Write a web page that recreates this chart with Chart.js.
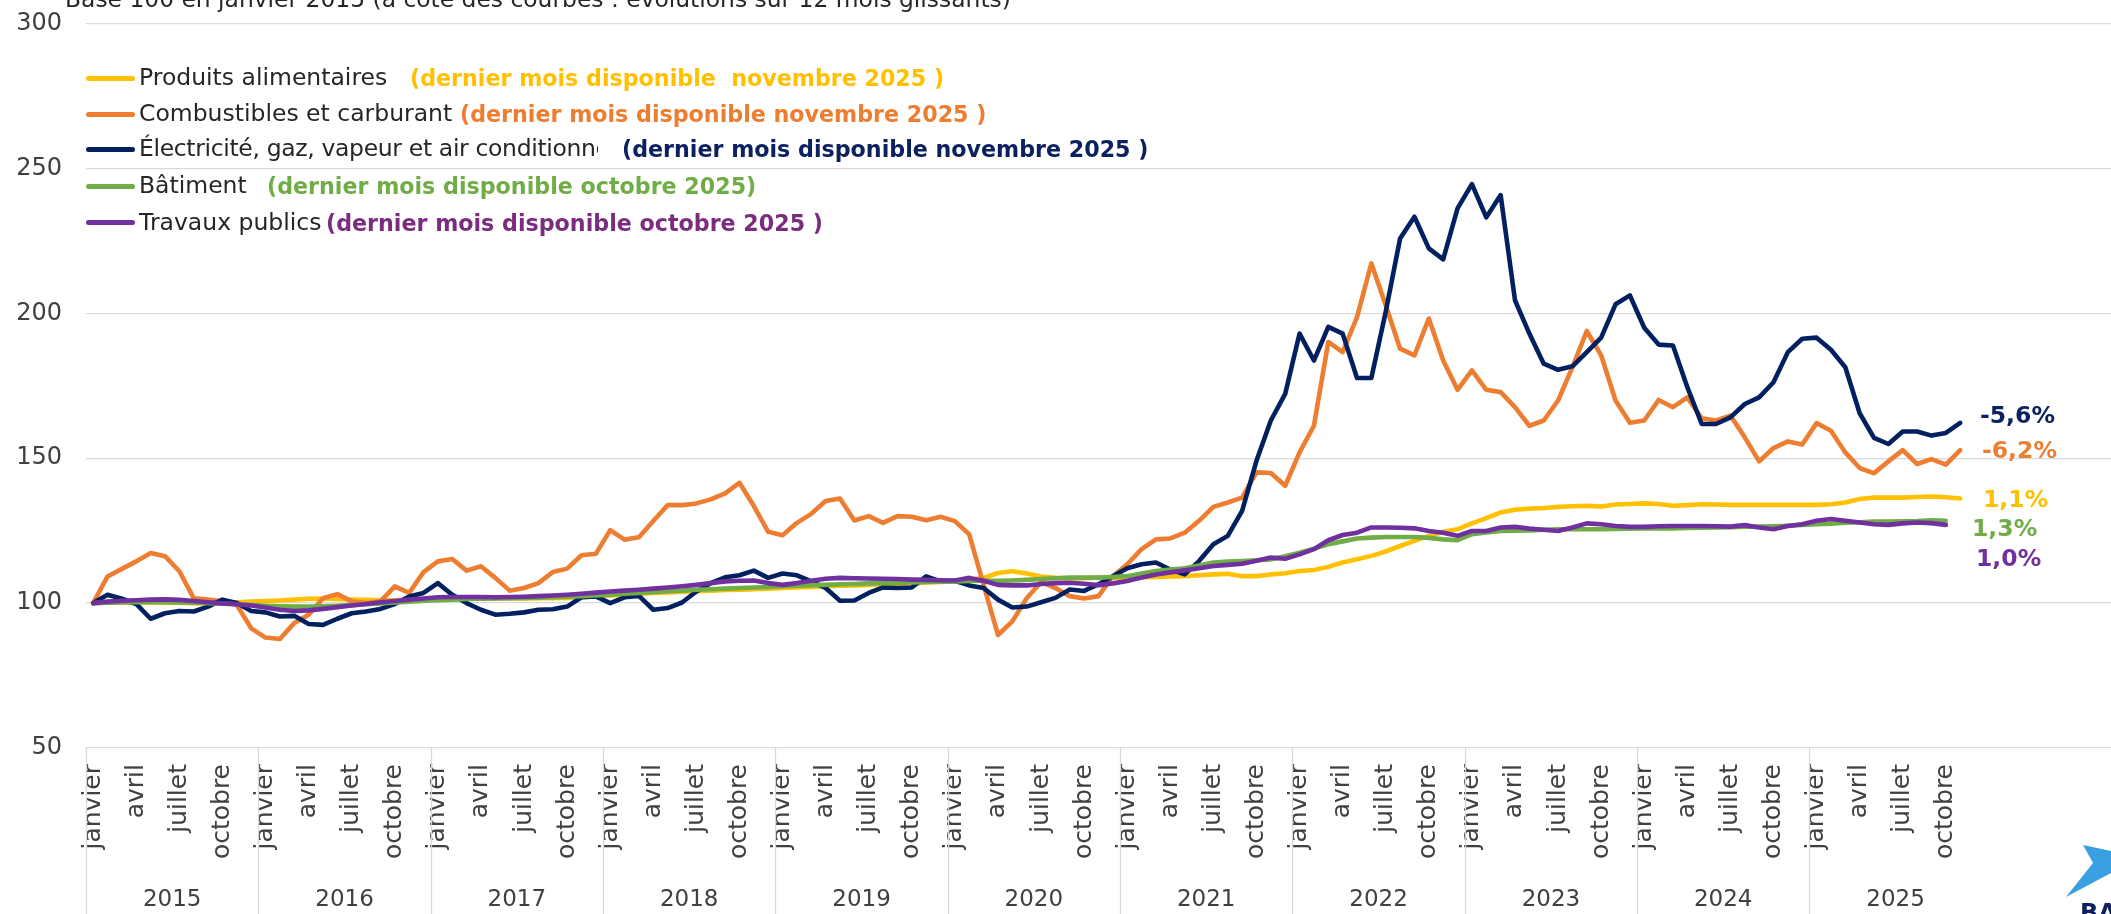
<!DOCTYPE html>
<html><head><meta charset="utf-8">
<script src="https://cdn.jsdelivr.net/npm/chart.js@4.4.1/dist/chart.umd.min.js"></script>
<style>
html,body{margin:0;padding:0;background:#fff;overflow:hidden;}
#wrap{position:relative;width:2111px;height:914px;overflow:hidden;}
#c{position:absolute;left:0;top:0;}
.t{position:absolute;white-space:nowrap;font-family:'DejaVu Sans';line-height:1;}
.r{font-size:23.5px;color:#262626;}
.b{font-size:22.2px;font-weight:bold;}
.e{font-size:23.5px;font-weight:bold;}
.sw{position:absolute;left:86px;width:49px;height:5px;border-radius:3px;}
</style></head><body>
<div id="wrap">
<canvas id="c" width="2111" height="914"></canvas>

<div class="t" style="left:65px;top:-11.8px;font-size:23.4px;color:#262626;">Base 100 en janvier 2015 (à côté des courbes : évolutions sur 12 mois glissants)</div>

<div class="sw" style="top:75.8px;background:#FFC000"></div>
<div class="sw" style="top:111.5px;background:#ED7D31"></div>
<div class="sw" style="top:146.8px;background:#002060"></div>
<div class="sw" style="top:183.5px;background:#70AD47"></div>
<div class="sw" style="top:220.2px;background:#7030A0"></div>

<div class="t r" style="left:139px;top:66.1px;">Produits alimentaires</div>
<div class="t r" style="left:139px;top:101.8px;">Combustibles et carburant</div>
<div class="t r" style="left:139px;top:130.1px;line-height:1.6;width:459px;overflow:hidden;letter-spacing:-0.35px;">Électricité, gaz, vapeur et air conditionné</div>
<div class="t r" style="left:139px;top:173.8px;">Bâtiment</div>
<div class="t r" style="left:139px;top:210.5px;">Travaux publics</div>

<div class="t b" style="left:410px;top:67.2px;color:#FFC000;">(dernier mois disponible&nbsp; novembre 2025 )</div>
<div class="t b" style="left:460px;top:102.9px;color:#ED7D31;">(dernier mois disponible novembre 2025 )</div>
<div class="t b" style="left:622px;top:138.2px;color:#0c2160;">(dernier mois disponible novembre 2025 )</div>
<div class="t b" style="left:267px;top:174.9px;color:#70AD47;">(dernier mois disponible octobre 2025)</div>
<div class="t b" style="left:326px;top:211.6px;color:#7B2C7F;">(dernier mois disponible octobre 2025 )</div>

<div class="t e" style="left:1980px;top:404px;color:#0c2160;">-5,6%</div>
<div class="t e" style="left:1982px;top:439px;color:#ED7D31;">-6,2%</div>
<div class="t e" style="left:1983px;top:488px;color:#FFC000;">1,1%</div>
<div class="t e" style="left:1972px;top:517px;color:#70AD47;">1,3%</div>
<div class="t e" style="left:1976px;top:547px;color:#7030A0;">1,0%</div>

<svg style="position:absolute;left:2050px;top:835px" width="61" height="79">
<polygon points="33,10 61,16 61,38 16,62 43,28" fill="#3a9fe0"/>
<text x="30" y="86" font-family="DejaVu Sans" font-weight="bold" font-size="24" fill="#0c2160">BA</text>
</svg>
</div>
<script>
const MONTHS = ['janvier','février','mars','avril','mai','juin','juillet','août','septembre','octobre','novembre','décembre'];
const YEARS = [2015,2016,2017,2018,2019,2020,2021,2022,2023,2024,2025];
const SHOWN_MONTHS = ['janvier','avril','juillet','octobre'];
const EXTRA_SLOTS = 9;
const Y_TICKS = [50,100,150,200,250,300];

const alimentaires = [
100,100.2,100.3,100.2,100.3,100.2,100.1,100,100,100.1,100.3,100.5,
100.7,100.9,101.2,101.5,101.6,101.4,101.2,101.1,101,101,101.1,101.2,
101.3,101.4,101.5,101.6,101.6,101.6,101.6,101.7,101.7,101.8,102,102.3,
102.6,102.9,103.2,103.5,103.7,103.9,104.1,104.3,104.5,104.6,104.8,105,
105.2,105.4,105.6,105.8,106,106.1,106.3,106.5,106.7,106.9,107.1,107.3,
107.5,108,108.7,110.4,111,110.2,109.2,108.7,108.5,108.6,108.8,108.8,
108.8,108.9,109,109.2,109.3,109.6,109.9,110.1,109.3,109.3,109.9,110.3,
111.1,111.4,112.5,114,115.1,116.3,117.8,119.7,121.5,123.2,124.6,125.5,
127.5,129.3,131.3,132.2,132.6,132.8,133.2,133.4,133.6,133.3,134,134.2,
134.4,134.2,133.6,133.8,134.1,134,133.9,133.9,133.9,133.9,133.9,133.9,
133.9,134.1,134.7,135.9,136.4,136.4,136.4,136.6,136.8,136.5,136.1];

const combustibles = [
100,109.2,111.8,114.4,117.3,116.2,111,101.7,101.2,100.6,99.4,91.3,
88.1,87.6,93.1,96,101.7,103.1,100.6,100,100.6,105.8,103.5,110.7,
114.4,115.2,111.2,112.7,108.7,104.3,105.2,106.9,110.7,111.9,116.5,117,
125.2,121.9,122.7,128.3,133.8,133.8,134.4,135.8,137.9,141.5,133.5,124.6,
123.4,127.7,130.8,135.2,136.1,128.5,130,127.7,130,129.8,128.6,129.8,
128.3,123.7,106.3,89,93.7,101.7,107.3,105.2,102.4,101.6,102.4,109.3,
113.4,118.6,122,122.3,124.3,128.4,133.2,134.7,136.4,145.1,144.9,140.5,
152,161.2,190.1,186.6,198.7,217.2,202.8,187.8,185.5,198.2,183.7,173.6,
180.3,173.6,172.8,167.6,161.2,163,169.9,181.4,193.9,185.5,169.9,162.2,
163,170.1,167.6,171,163.8,163,164.7,157.2,148.9,153.5,155.8,154.7,
162.1,159.5,152,146.6,144.8,148.9,152.8,148,149.7,147.8,152.8];

const electricite = [
100,102.9,101.5,99.7,94.6,96.5,97.3,97.1,98.8,101.2,100,97.3,
96.8,95.4,95.6,92.8,92.5,94.6,96.5,97.1,98,99.7,102.3,103.5,
106.9,102.9,100,97.7,96,96.3,96.8,97.7,97.9,98.8,102,102.3,
100,102,102.5,97.7,98.3,100.2,104,106.9,108.9,109.6,111.2,108.7,
110.2,109.6,107.5,105.2,100.8,100.9,103.5,105.4,105.2,105.4,109.2,107.5,
107.7,106.1,105.2,101.2,98.5,98.8,100.3,101.8,104.7,104.2,106.5,109.3,
112,113.4,114,111.6,109.9,114.5,120.3,123.2,131.8,149.1,163,172.2,
193,183.7,195.3,193,177.7,177.7,200.5,225.8,233.3,222.4,218.6,236.2,
244.6,233.1,240.8,204.5,193,182.6,180.5,181.7,186.6,191.6,203.1,206.2,
195,189.2,188.9,174.5,161.8,161.8,164.1,168.7,171,176.2,186.6,191.2,
191.6,187.4,181.4,165.5,157,154.9,159.2,159.2,157.8,158.7,162.2];

const batiment = [
100,100.1,100.2,100.3,100.3,100.3,100.2,100.1,100,99.8,99.6,99.4,
99.1,98.9,98.8,98.8,98.9,99.1,99.3,99.6,99.9,100.2,100.5,100.8,
101,101.2,101.4,101.5,101.6,101.7,101.8,101.9,102,102.2,102.4,102.6,
102.9,103.2,103.5,103.8,104.1,104.3,104.6,104.8,105,105.2,105.4,105.6,
105.8,106,106.2,106.3,106.5,106.6,106.8,106.9,107,107.1,107.3,107.4,
107.5,107.6,107.7,107.7,107.8,108,108.3,108.6,108.8,108.8,108.8,109,
109.3,110.2,111.1,111.6,112,113,114,114.3,114.5,114.8,115.1,116.2,
117.4,118.8,120.3,121.3,122.3,122.6,122.8,122.8,122.8,122.5,122,121.7,
123.8,124.4,124.9,125,125.1,125.3,125.5,125.5,125.5,125.5,125.6,125.7,
125.8,125.8,125.8,125.9,126,126.1,126.2,126.4,126.4,126.5,126.7,127,
127.2,127.4,127.7,127.9,128.1,128.1,128.2,128.3,128.6,128.4];

const travauxPublics = [
100,100.5,100.8,101,101.2,101.3,101.1,100.7,100.3,99.9,99.6,99.2,
98.5,97.7,97.3,97.5,98,98.6,99.2,99.7,100.3,100.7,101.2,101.6,
102,102.1,102.1,102.1,102,102.1,102.2,102.4,102.6,102.9,103.2,103.6,
104,104.3,104.6,105,105.4,105.8,106.3,106.9,107.5,107.7,107.8,106.9,
106.3,106.9,107.7,108.4,108.7,108.6,108.5,108.4,108.3,108.1,108,107.9,
107.8,108.7,107.7,106.3,106.1,106.1,106.6,106.9,107,106.7,106.2,106.8,
107.6,108.8,109.9,110.6,111.3,112,112.8,113.2,113.6,114.6,115.7,115.3,
116.8,118.6,121.7,123.5,124.3,126.1,126.1,126,125.8,124.9,124.3,123.2,
124.9,124.9,126.1,126.3,125.7,125.3,124.9,126.1,127.5,127.2,126.6,126.3,
126.3,126.5,126.6,126.6,126.6,126.5,126.4,126.9,126.1,125.5,126.6,127.2,
128.4,129,128.4,127.8,127.2,127,127.5,127.8,127.6,127];

const categories = [];
YEARS.forEach(y => MONTHS.forEach(m => categories.push(m + ' ' + y)));
for (let k = 0; k < EXTRA_SLOTS; k++) categories.push('');
const nMonths = YEARS.length * 12;

const yearPlugin = {
  id: 'years',
  afterDraw(chart) {
    const {ctx, chartArea, scales: {x}} = chart;
    const w = x.getPixelForValue(1) - x.getPixelForValue(0);
    const left = x.getPixelForValue(0) - w / 2;
    ctx.save();
    ctx.strokeStyle = '#d9d9d9';
    ctx.lineWidth = 1.3;
    ctx.fillStyle = '#404040';
    ctx.font = '23px "DejaVu Sans"';
    ctx.textAlign = 'center';
    ctx.textBaseline = 'middle';
    YEARS.forEach((yr, k) => {
      const xs = Math.round(left + k * 12 * w) + 0.5;
      ctx.beginPath(); ctx.moveTo(xs, chartArea.bottom); ctx.lineTo(xs, chart.height); ctx.stroke();
      ctx.fillText(String(yr), left + (k * 12 + 6) * w, 900);
    });
    ctx.restore();
  }
};

Chart.defaults.font.family = "'DejaVu Sans'";
const ds = (label, data, color, order) => ({label, data, borderColor: color, backgroundColor: color,
  borderWidth: 4.6, pointRadius: 0, tension: 0, borderJoinStyle: 'round', borderCapStyle: 'round', order, fill: false});

new Chart(document.getElementById('c'), {
  type: 'line',
  data: {
    labels: categories,
    datasets: [
      ds('Produits alimentaires', alimentaires, '#FFC000', 5),
      ds('Combustibles et carburant', combustibles, '#ED7D31', 4),
      ds('Électricité, gaz, vapeur et air conditionné', electricite, '#002060', 3),
      ds('Bâtiment', batiment, '#70AD47', 2),
      ds('Travaux publics', travauxPublics, '#7030A0', 1)
    ]
  },
  options: {
    responsive: false,
    animation: false,
    devicePixelRatio: 1,
    layout: {padding: {top: 23.5, left: 0, right: 0, bottom: 0}},
    plugins: {legend: {display: false}, tooltip: {enabled: false}},
    scales: {
      x: {
        type: 'category',
        offset: true,
        grid: {display: false, drawTicks: false},
        border: {display: false},
        ticks: {
          autoSkip: false, minRotation: 90, maxRotation: 90, padding: 16,
          color: '#404040', font: {size: 25},
          callback: (v, i) => (i < nMonths && SHOWN_MONTHS.includes(MONTHS[i % 12])) ? MONTHS[i % 12] : ''
        },
        afterFit: s => { s.height = 166; s.paddingLeft = 0; s.paddingRight = 0; }
      },
      y: {
        min: 50, max: 300,
        afterBuildTicks: s => { s.ticks = Y_TICKS.map(v => ({value: v})); },
        grid: {color: '#d9d9d9', lineWidth: 1.3, drawTicks: false},
        border: {display: false},
        ticks: {padding: 24, color: '#404040', font: {size: 24}},
        afterFit: s => { s.width = 86; s.paddingTop = 0; s.paddingBottom = 0; }
      }
    }
  },
  plugins: [yearPlugin]
});
</script>
</body></html>
